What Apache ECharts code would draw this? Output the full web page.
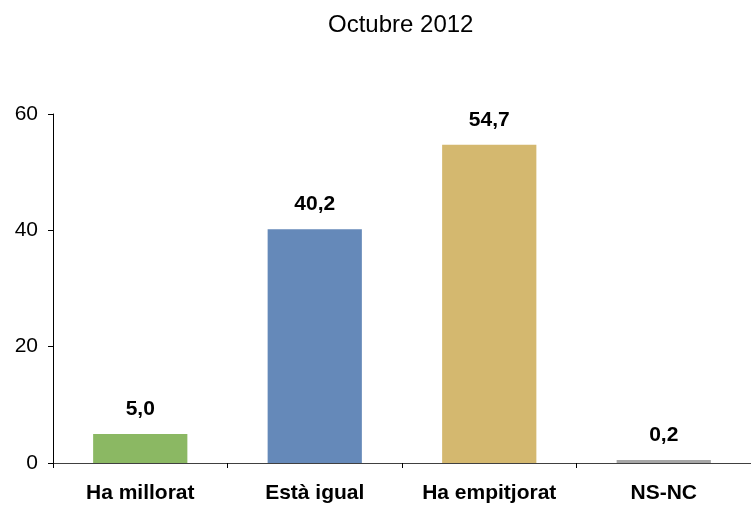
<!DOCTYPE html>
<html>
<head>
<meta charset="utf-8">
<script src="https://cdn.jsdelivr.net/npm/echarts@6/dist/echarts.min.js"></script>
<style>
  html, body { margin: 0; padding: 0; background: #fff; }
  #chart { width: 751px; height: 506px; }
</style>
</head>
<body>
<div id="chart"></div>
<script>
// dades
var categories = ['Ha millorat', 'Està igual', 'Ha empitjorat', 'NS-NC'];
var values = [5.0, 40.2, 54.7, 0.2];
var barColors = ['#8bb863', '#6589b9', '#d4b86f', '#a6a6a6'];

var chart = echarts.init(document.getElementById('chart'));
var font = '"Liberation Sans", Arial, sans-serif';

var option = {
  animation: false,
  title: {
    text: 'Octubre 2012',
    left: 323,
    top: 8,
    textStyle: { fontFamily: font, fontSize: 24, fontWeight: 'normal', color: '#000' }
  },
  grid: { left: 53, right: 0, top: 114, bottom: 43 },
  xAxis: {
    type: 'category',
    data: categories,
    axisLine: { lineStyle: { color: '#404040', width: 1 } },
    axisTick: { show: true, length: 5, lineStyle: { color: '#000' } },
    axisLabel: { margin: 20, color: '#000', fontFamily: font, fontSize: 21, fontWeight: 'bold' }
  },
  yAxis: {
    type: 'value',
    min: 0,
    max: 60,
    interval: 20,
    splitLine: { show: false },
    axisLine: { show: true, lineStyle: { color: '#000' } },
    axisTick: { show: true, length: 5, lineStyle: { color: '#000' } },
    axisLabel: { margin: 15, color: '#000', fontFamily: font, fontSize: 21 }
  },
  series: [{
    type: 'bar',
    data: values.map(function (v, i) {
      return { value: v, itemStyle: { color: barColors[i] } };
    }),
    barWidth: '54%',
    barMinHeight: 3,
    label: {
      show: true,
      position: 'top',
      distance: 14,
      color: '#000',
      fontFamily: font,
      fontSize: 21,
      fontWeight: 'bold',
      formatter: function (p) { return p.value.toFixed(1).replace('.', ','); }
    }
  }]
};
chart.setOption(option);
</script>
</body>
</html>
